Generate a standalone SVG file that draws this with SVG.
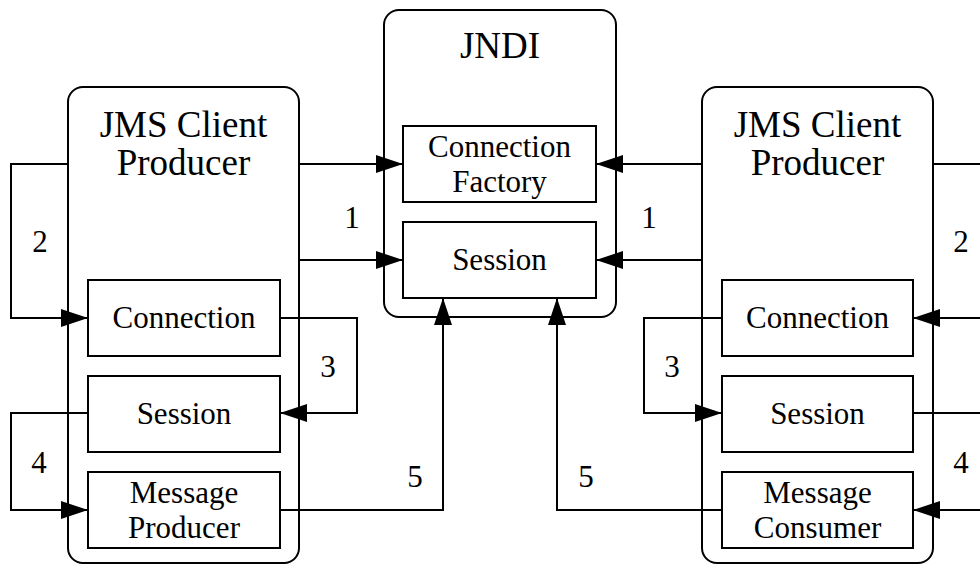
<svg xmlns="http://www.w3.org/2000/svg" width="980" height="565" viewBox="0 0 980 565">
<style>
.big{fill:none;stroke:#000;stroke-width:2}
.box{fill:#fff;stroke:#000;stroke-width:2}
text{font-family:'Liberation Serif','DejaVu Serif',serif;fill:#000;text-anchor:middle}
.tl{font-size:37px}
.tm{font-size:31px}
.num{font-size:31px}
.c{fill:none;stroke:#000;stroke-width:2;marker-end:url(#ah)}
</style>
<defs>
<marker id="ah" markerUnits="userSpaceOnUse" markerWidth="27" markerHeight="18" refX="27" refY="9" orient="auto" viewBox="0 0 27 18">
<path d="M0,0 L27,9 L0,18 z" fill="#000"/>
</marker>
</defs>
<rect width="980" height="565" fill="#fff"/>
<g id="jndi">
<rect class="big" x="384" y="10" width="232" height="307" rx="15"/>
<text class="tl" x="500" y="58">JNDI</text>
</g>
<g id="jndi-connection-factory">
<rect class="box" x="403" y="126" width="193" height="76"/>
<text class="tm" x="499.5" y="157">Connection</text>
<text class="tm" x="499.5" y="192">Factory</text>
</g>
<g id="jndi-session">
<rect class="box" x="403" y="222" width="193" height="76"/>
<text class="tm" x="499.5" y="270">Session</text>
</g>
<g id="left-client">
<rect class="big" x="68" y="87" width="231" height="476" rx="15"/>
<text class="tl" x="183.5" y="137">JMS Client</text>
<text class="tl" x="183.5" y="175">Producer</text>
</g>
<g id="left-connection">
<rect class="box" x="88" y="280" width="192" height="76"/>
<text class="tm" x="184" y="328">Connection</text>
</g>
<g id="left-session">
<rect class="box" x="88" y="376" width="192" height="76"/>
<text class="tm" x="184" y="424">Session</text>
</g>
<g id="left-message-producer">
<rect class="box" x="88" y="472" width="192" height="76"/>
<text class="tm" x="184" y="503">Message</text>
<text class="tm" x="184" y="538">Producer</text>
</g>
<g id="right-client">
<rect class="big" x="702" y="87" width="231" height="476" rx="15"/>
<text class="tl" x="817.5" y="137">JMS Client</text>
<text class="tl" x="817.5" y="175">Producer</text>
</g>
<g id="right-connection">
<rect class="box" x="722" y="280" width="191" height="76"/>
<text class="tm" x="817.5" y="328">Connection</text>
</g>
<g id="right-session">
<rect class="box" x="722" y="376" width="191" height="76"/>
<text class="tm" x="817.5" y="424">Session</text>
</g>
<g id="right-message-consumer">
<rect class="box" x="722" y="472" width="191" height="76"/>
<text class="tm" x="817.5" y="503">Message</text>
<text class="tm" x="817.5" y="538">Consumer</text>
</g>
<g id="connectors">
<path class="c" d="M68,164 H11 V318 H88"/>
<path class="c" d="M299,164 H403"/>
<path class="c" d="M299,260 H403"/>
<path class="c" d="M280,318 H357 V413 H280"/>
<path class="c" d="M88,413 H11 V510 H88"/>
<path class="c" d="M280,510 H443 V298"/>
<path class="c" d="M933,164 H992 V318 H913"/>
<path class="c" d="M702,164 H596"/>
<path class="c" d="M702,260 H596"/>
<path class="c" d="M722,318 H644 V413 H722"/>
<path class="c" d="M913,413 H992 V510 H913"/>
<path class="c" d="M722,510 H557 V298"/>
</g>
<g id="labels">
<text class="num" x="40" y="252">2</text>
<text class="num" x="352" y="228">1</text>
<text class="num" x="328" y="377">3</text>
<text class="num" x="39" y="473">4</text>
<text class="num" x="415" y="487">5</text>
<text class="num" x="586" y="487">5</text>
<text class="num" x="649" y="228">1</text>
<text class="num" x="961" y="252">2</text>
<text class="num" x="672" y="377">3</text>
<text class="num" x="961" y="473">4</text>
</g>
</svg>
